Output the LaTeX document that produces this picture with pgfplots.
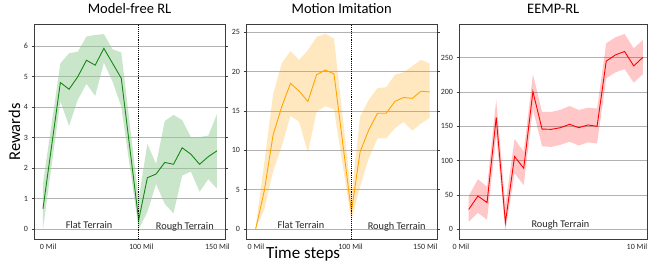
\documentclass[border=0pt]{standalone}
\usepackage{fontspec}
\setmainfont{Carlito}
\usepackage{pgfplots}
\usepackage{pgfplotstable}
\pgfplotsset{compat=1.18}
\usepgfplotslibrary{fillbetween}

\definecolor{gline}{RGB}{20,135,20}
\definecolor{gband}{RGB}{150,205,150}
\definecolor{oline}{RGB}{255,165,0}
\definecolor{rline}{RGB}{255,0,0}
\definecolor{spine}{RGB}{60,60,60}

\pgfplotstableread{
x m lo hi
0 0.67 0.00 1.50
2 4.81 4.19 5.44
3 4.59 3.39 5.77
4 5.00 4.24 5.82
5 5.54 4.77 6.32
6 5.38 4.37 6.37
7 5.93 5.46 6.40
8 5.44 4.84 5.90
9 4.95 4.02 5.80
11 0.30 0.00 1.00
12 1.69 0.57 2.80
13 1.81 1.48 2.14
14 2.19 0.83 3.55
15 2.13 0.52 3.75
16 2.67 1.76 3.58
17 2.46 1.89 3.02
18 2.13 1.23 3.02
19 2.38 1.64 3.07
20 2.57 1.33 3.78
}\mf

\pgfplotstableread{
x m lo hi
0 0.0 0.0 0.3
1 4.9 2.5 8.5
2 11.95 7.3 17.1
3 15.55 10.5 21.06
4 18.5 14.4 22.6
5 17.5 13.6 21.5
6 16.2 9.7 22.7
7 19.6 14.9 24.4
8 20.2 15.6 24.8
9 19.7 15.2 24.2
11 2.2 1.0 4.3
12 9.8 5.4 14.3
13 12.6 9.0 16.4
14 14.7 11.5 17.9
15 14.7 11.5 18.0
16 16.2 12.8 19.6
17 16.7 13.6 19.9
18 16.6 12.5 20.7
19 17.5 13.4 21.5
20 17.4 14.1 21.0
}\mi

\pgfplotstableread{
x m lo hi
0 29 11 48.5
1 48.5 24 73
2 39 14 62
3 163 137 189
4 10 -2 35
5 106 81.5 131.5
6 89 64.5 113
7 200.5 175 226
8 146 121 171
9 145.6 120 171
10 148 123 174
11 153 127.7 179.6
12 148 122 173.8
13 152 126.7 177
14 150 125 176
15 245 220 271
16 254 228.6 279.6
17 259 233.5 284.5
18 238 213.6 263.6
19 250.5 226 275.7
}\ee

\tikzset{terr/.style={font=\fontsize{10.3}{11}\selectfont, anchor=base, text=black!85}}
\pgfplotsset{
  panel/.style={
    scale only axis, height=214.7pt, anchor=south west,
    axis line style={draw=spine, line width=0.9pt},
    ymajorgrids, grid style={black!30, line width=0.8pt},
    tick align=outside, major tick length=2.5pt,
    ytick style={draw=spine, line width=0.6pt},
    xtick style={draw=none},
    tick label style={font=\fontsize{8}{9}\selectfont, text=black!85},
    /pgf/number format/assume math mode=true,
    xticklabel style={yshift=1pt},
    title style={at={(0.5,1)}, anchor=base, yshift=5pt, font=\fontsize{14.5}{15}\selectfont},
    clip=false,
  },
}

\begin{document}
\begin{tikzpicture}

% Panel 1
\begin{axis}[panel, at={(34pt,26pt)}, width=191pt,
  title={Model-free RL},
  xmin=-1.03, xmax=20.92, ymin=-0.32, ymax=6.72,
  ytick={0,1,2,3,4,5,6},
  xtick={0.6,11.3,20.05}, xticklabels={0 Mil,100 Mil,150 Mil}]
  \addplot[name path=u1, draw=none] table[x=x,y=hi] {\mf};
  \addplot[name path=l1, draw=none] table[x=x,y=lo] {\mf};
  \addplot[gband, fill opacity=0.5, draw=none] fill between[of=u1 and l1];
  \addplot[gline, line width=0.9pt] table[x=x,y=m] {\mf};
  \addplot[black, densely dotted, line width=0.9pt] coordinates {(11,-0.32) (11,6.72)};
  \node[terr] at (axis cs:5.3,0.03) {Flat Terrain};
  \node[terr] at (axis cs:16.3,0.0) {Rough Terrain};
\end{axis}

% Panel 2
\begin{axis}[panel, at={(246pt,26pt)}, width=191.3pt,
  title={Motion Imitation},
  xmin=-1.11, xmax=20.87, ymin=-1.27, ymax=26.0,
  ytick={0,5,10,15,20,25},
  xtick={0.03,10.9,19.5}, xticklabels={0 Mil,100 Mil,150 Mil}]
  \addplot[name path=u2, draw=none] table[x=x,y=hi] {\mi};
  \addplot[name path=l2, draw=none] table[x=x,y=lo] {\mi};
  \addplot[oline, fill opacity=0.25, draw=none] fill between[of=u2 and l2];
  \addplot[oline, line width=0.9pt] table[x=x,y=m] {\mi};
  \addplot[black, densely dotted, line width=0.9pt] coordinates {(11,-1.27) (11,26.0)};
  \node[terr] at (axis cs:5.2,0.1) {Flat Terrain};
  \node[terr] at (axis cs:16.2,0.0) {Rough Terrain};
\end{axis}

% Panel 3
\begin{axis}[panel, at={(459pt,26pt)}, width=188.5pt,
  title={EEMP-RL},
  xmin=-1.06, xmax=19.5, ymin=-14.1, ymax=298.6,
  ytick={0,50,100,150,200,250},
  xtick={-0.85,18.35}, xticklabels={0 Mil,10 Mil}]
  \addplot[name path=u3, draw=none] table[x=x,y=hi] {\ee};
  \addplot[name path=l3, draw=none] table[x=x,y=lo] {\ee};
  \addplot[rline, fill opacity=0.22, draw=none] fill between[of=u3 and l3];
  \addplot[rline, line width=0.9pt] table[x=x,y=m] {\ee};
  \node[terr] at (axis cs:10.0,2.3) {Rough Terrain};
\end{axis}

\node[rotate=90, anchor=base, font=\fontsize{16.5}{17}\selectfont] at (20pt,133pt) {Rewards};
\node[anchor=base, font=\fontsize{17}{18}\selectfont] at (303pt,6.7pt) {Time steps};
\pgfresetboundingbox
\path (0pt,0pt) rectangle (648pt,265pt);
\end{tikzpicture}
\end{document}
